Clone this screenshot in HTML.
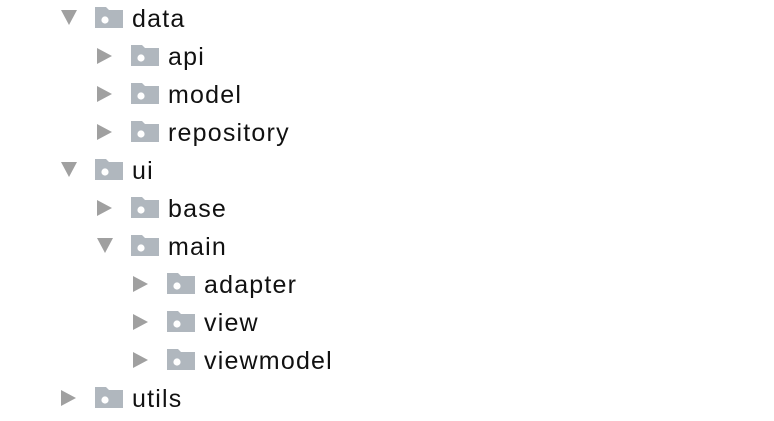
<!DOCTYPE html>
<html><head><style>
body{margin:0;width:774px;height:421px;background:#fff;position:relative;overflow:hidden;font-family:"Liberation Sans",sans-serif}
.r{position:absolute;height:38px}
.t{position:absolute;width:0;height:0}
.down{border-left:8px solid transparent;border-right:8px solid transparent;border-top:15px solid #a0a0a0;top:10px}
.right{border-top:8px solid transparent;border-bottom:8px solid transparent;border-left:15px solid #a0a0a0;top:10px}
.f{position:absolute;top:7px;width:28px;height:21px}
.l{position:absolute;top:4px;font-size:25px;letter-spacing:1.2px;color:#111;line-height:30px}
</style></head><body>
<svg width="0" height="0" style="position:absolute"><defs><symbol id="fd" viewBox="0 0 28 21"><path d="M0 0H11L14 3H28V21H0Z" fill="#b0b7be"/><circle cx="10" cy="13" r="3.6" fill="#fff"/></symbol></defs></svg>
<div id="c"></div>
<script>
var rows=[[0,'d','data'],[1,'r','api'],[1,'r','model'],[1,'r','repository'],[0,'d','ui'],[1,'r','base'],[1,'d','main'],[2,'r','adapter'],[2,'r','view'],[2,'r','viewmodel'],[0,'r','utils']];
var h='';
rows.forEach(function(r,i){var y=i*38,x=61+r[0]*36;
h+='<div class="r" style="top:'+y+'px;left:0;width:774px">'+
(r[1]=='d'?'<div class="t down" style="left:'+x+'px"></div>':'<div class="t right" style="left:'+x+'px"></div>')+
'<svg class="f" style="left:'+(x+34)+'px"><use href="#fd"/></svg>'+
'<div class="l" style="left:'+(x+71)+'px">'+r[2]+'</div></div>';});
document.getElementById('c').innerHTML=h;
</script>
</body></html>
